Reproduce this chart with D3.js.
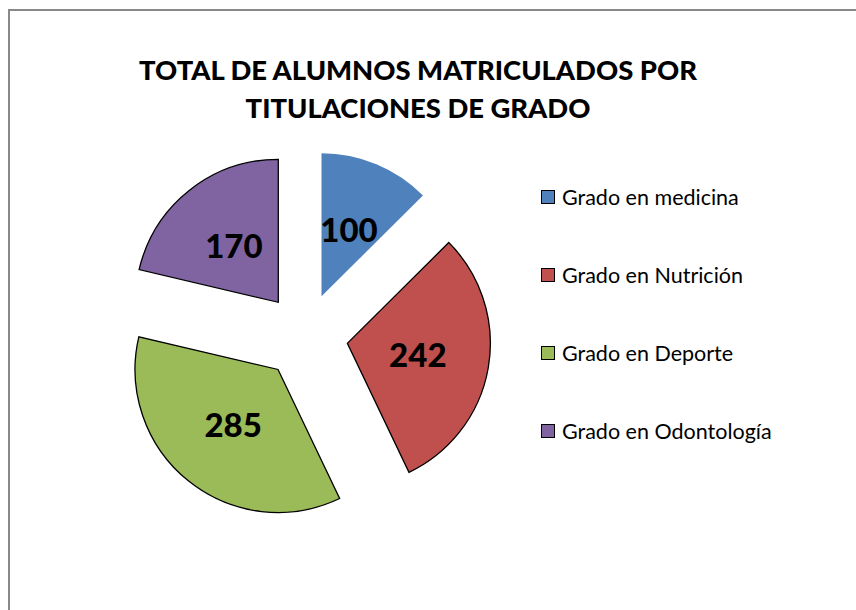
<!DOCTYPE html>
<html>
<head>
<meta charset="utf-8">
<script src="https://cdn.jsdelivr.net/npm/d3@7"></script>
<style>
    body { margin: 0; background: #fff; }
    svg { display: block; }
    text { font-family: Lato, "Open Sans", sans-serif; }
</style>
</head>
<body>
<div id="chart"></div>
<script>
    const titleLines = ["TOTAL DE ALUMNOS MATRICULADOS POR", "TITULACIONES DE GRADO"];
    const categories = ["Grado en medicina", "Grado en Nutrición", "Grado en Deporte", "Grado en Odontología"];
    const values = [100, 242, 285, 170];
    const colors = ["#4F81BD", "#C0504D", "#9BBB59", "#8064A2"];

    const svg = {
            width: 856,
            height: 610,
            cx: 305,
            cy: 336,
            radius: 143,
            explode: 43
        };

    const data = categories.map((c, i) => ({ name: c, value: values[i], color: colors[i] }));

    const chart = d3.select("#chart")
        .append("svg")
        .attr("width", svg.width)
        .attr("height", svg.height);

    // chart area frame
    chart.append("rect")
        .attr("x", 9)
        .attr("y", 10)
        .attr("width", 900)
        .attr("height", 700)
        .attr("fill", "#fff")
        .attr("stroke", "#898989")
        .attr("stroke-width", 2);

    chart.append("g")
        .attr("class", "title")
        .selectAll("text")
        .data(titleLines)
        .join("text")
        .attr("x", 418)
        .attr("y", (d, i) => 80 + i * 38)
        .attr("text-anchor", "middle")
        .attr("font-size", 27.4)
        .attr("font-weight", "900")
        .text(d => d);

    const pie = d3.pie()
        .sort(null)
        .value(d => d.value);

    const arc = d3.arc()
        .innerRadius(0)
        .outerRadius(svg.radius);

    const slices = chart.append("g")
        .attr("class", "pie")
        .attr("transform", `translate(${svg.cx}, ${svg.cy})`)
        .selectAll("g.slice")
        .data(pie(data))
        .join("g")
        .attr("class", "slice")
        .attr("transform", d => {
            const a = (d.startAngle + d.endAngle) / 2;
            return `translate(${Math.sin(a) * svg.explode}, ${-Math.cos(a) * svg.explode})`;
        });

    slices.append("path")
        .attr("d", arc)
        .attr("fill", d => d.data.color)
        .attr("stroke", (d, i) => i === 0 ? "none" : "#000")
        .attr("stroke-width", 1.3);

    slices.append("text")
        .attr("transform", d => `translate(${arc.centroid(d)})`)
        .attr("text-anchor", "middle")
        .attr("dy", "0.36em")
        .attr("font-size", 33)
        .attr("font-weight", "900")
        .text(d => d.data.value);

    const legend = chart.append("g")
        .attr("class", "legend")
        .selectAll("g.item")
        .data(data)
        .join("g")
        .attr("class", "item")
        .attr("transform", (d, i) => `translate(541, ${197 + i * 78})`);

    legend.append("rect")
        .attr("x", 0.5)
        .attr("y", -6.5)
        .attr("width", 13)
        .attr("height", 13)
        .attr("fill", d => d.color)
        .attr("stroke", "#000")
        .attr("stroke-width", 1);

    legend.append("text")
        .attr("x", 21)
        .attr("dy", "0.36em")
        .attr("font-size", 21.5)
        .text(d => d.name);
</script>
</body>
</html>
